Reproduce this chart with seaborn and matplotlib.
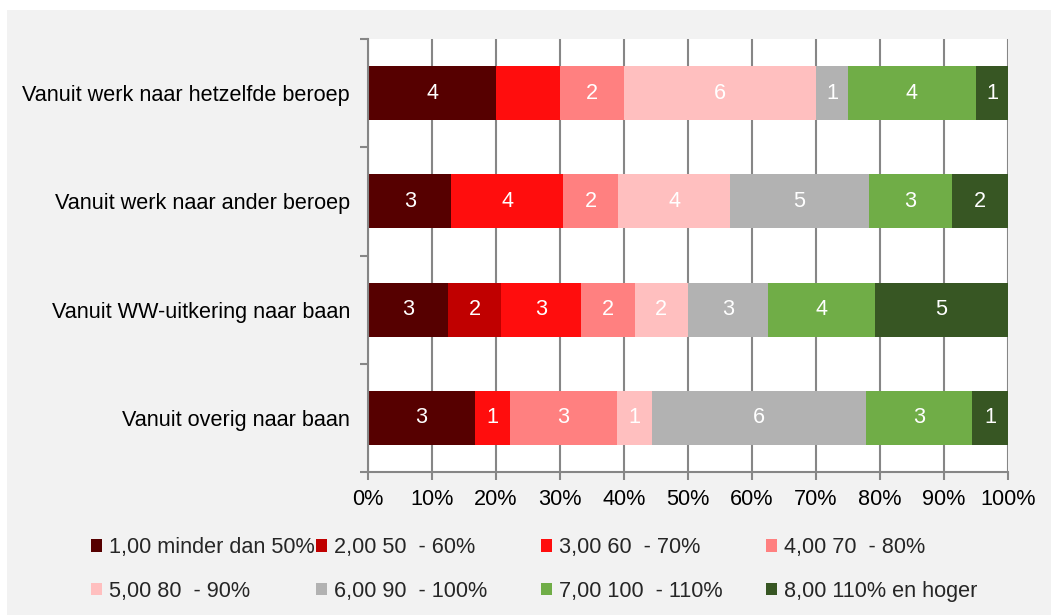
import matplotlib
matplotlib.use("Agg")
import matplotlib.pyplot as plt
from matplotlib.patches import Rectangle, Patch
from matplotlib.ticker import FixedLocator, PercentFormatter
import numpy as np
import pandas as pd
import seaborn as sns

# --- data -------------------------------------------------------------
categories = [
    "Vanuit werk naar hetzelfde beroep",
    "Vanuit werk naar ander beroep",
    "Vanuit WW-uitkering naar baan",
    "Vanuit overig naar baan",
]
classes = [
    "1,00 minder dan 50%",
    "2,00 50  - 60%",
    "3,00 60  - 70%",
    "4,00 70  - 80%",
    "5,00 80  - 90%",
    "6,00 90  - 100%",
    "7,00 100  - 110%",
    "8,00 110% en hoger",
]
# counts per category (rows) and class (columns)
counts_hetzelfde = [4, 0, 2, 2, 6, 1, 4, 1]
counts_ander = [3, 0, 4, 2, 4, 5, 3, 2]
counts_ww = [3, 2, 3, 2, 2, 3, 4, 5]
counts_overig = [3, 0, 1, 3, 1, 6, 3, 1]
# segments drawn without a value label: (row, class)
unlabeled = [(0, 2)]

colors = ["#560000", "#c00000", "#ff0d0d", "#ff8080",
          "#ffbfbf", "#b2b2b2", "#70ad47", "#375623"]

counts = np.array([counts_hetzelfde, counts_ander, counts_ww, counts_overig], dtype=float)
shares = counts / counts.sum(axis=1, keepdims=True) * 100
cum = np.cumsum(shares, axis=1)

FS = 15.6

# --- figure -----------------------------------------------------------
sns.set_theme(style="white")
plt.rcParams["font.family"] = ["Liberation Sans", "DejaVu Sans"]

W, H = 1051, 615
fig = plt.figure(figsize=(W / 100, H / 100), dpi=100, facecolor="white")
fig.patches.append(Rectangle((7 / W, 0), 1 - 7 / W, 1 - 10 / H,
                             transform=fig.transFigure, facecolor="#f2f2f2",
                             edgecolor="none", zorder=-10))

ax = fig.add_axes([368 / W, 1 - 472 / H, 640 / W, 433 / H])
ax.set_facecolor("white")

# stacked bars: draw cumulative totals from the widest down
for k in range(len(classes) - 1, -1, -1):
    df = pd.DataFrame({"cat": categories, "val": cum[:, k]})
    sns.barplot(data=df, x="val", y="cat", orient="h", color=colors[k],
                width=0.5, saturation=1, edgecolor="none", linewidth=0,
                ax=ax, zorder=2)

# value labels in the centre of each segment
for i in range(len(categories)):
    for k in range(len(classes)):
        if counts[i, k] == 0 or (i, k) in unlabeled:
            continue
        left = cum[i, k] - shares[i, k]
        ax.text(left + shares[i, k] / 2, i, f"{int(counts[i, k])}",
                ha="center", va="center", color="white", fontsize=FS, zorder=5)

ax.set_xlim(0, 100)
ax.set_ylim(len(categories) - 0.5, -0.5)
ax.xaxis.set_major_locator(FixedLocator(np.arange(0, 101, 10)))
ax.xaxis.set_major_formatter(PercentFormatter(decimals=0))
ax.grid(axis="x", color="#868686", linewidth=1.5, zorder=0)
ax.grid(axis="y", visible=False)
ax.set_axisbelow(True)
ax.set_xlabel("")
ax.set_ylabel("")

for side in ["top", "right"]:
    ax.spines[side].set_visible(False)
for side in ["left", "bottom"]:
    ax.spines[side].set_color("#868686")
    ax.spines[side].set_linewidth(1.5)

ax.tick_params(axis="x", which="major", length=6, width=1.5, color="#868686",
               labelsize=FS, labelcolor="black", pad=6, bottom=True)
ax.tick_params(axis="y", which="major", length=0, labelsize=FS,
               labelcolor="black", pad=13)
ax.yaxis.set_minor_locator(FixedLocator(np.arange(-0.5, len(categories), 1)))
ax.tick_params(axis="y", which="minor", length=6, width=1.5,
               color="#868686", left=True)

# legend: four columns of two entries each
handles = [Patch(facecolor=c, edgecolor="none") for c in colors]
col_x = [91, 316, 541, 766]
for j, x0 in enumerate(col_x):
    idx = [j, j + 4]
    fig.legend([handles[n] for n in idx], [classes[n] for n in idx],
               loc="upper left", bbox_to_anchor=(x0 / W, 1 - 537 / H),
               frameon=False, fontsize=FS, handlelength=0.52, handleheight=0.52,
               handletextpad=0.3, labelspacing=1.05, borderpad=0,
               borderaxespad=0)

fig.savefig("out.png", dpi=100, facecolor=fig.get_facecolor())
